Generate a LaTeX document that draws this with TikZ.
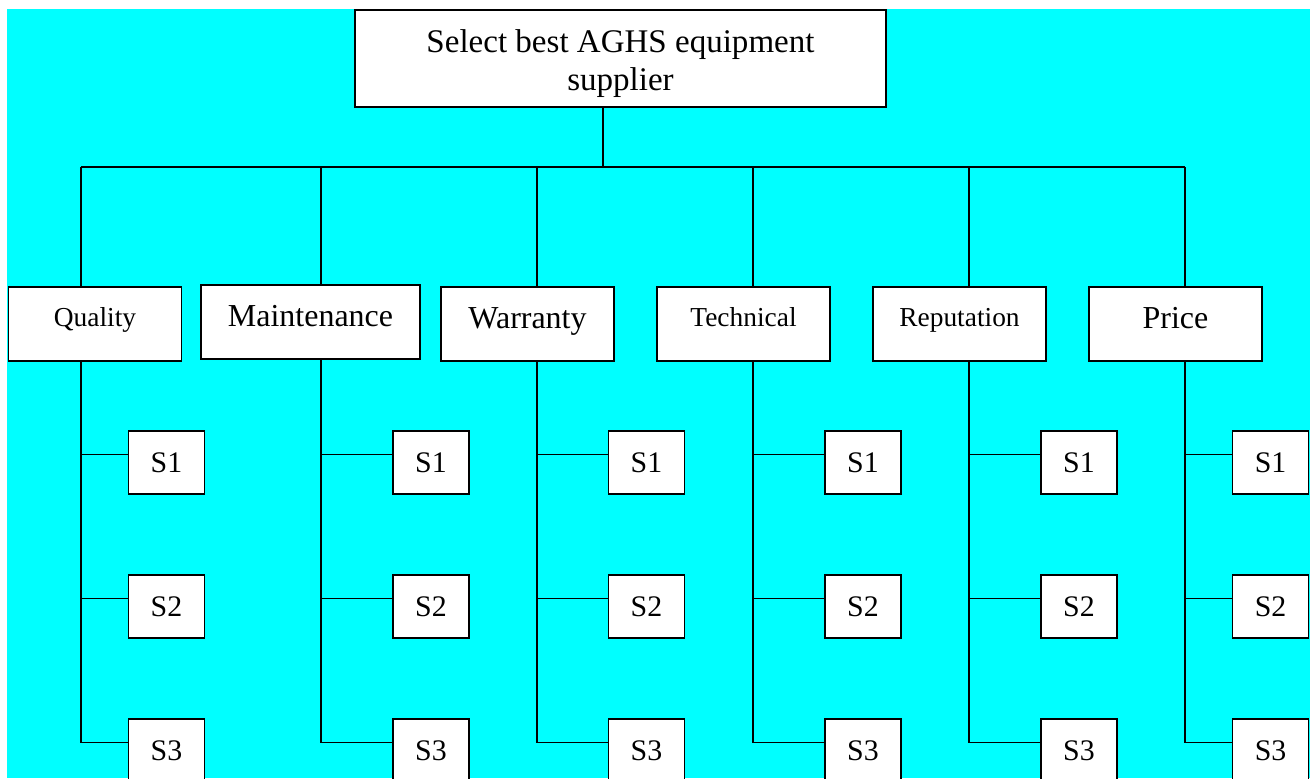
\documentclass[tikz,border=0pt]{standalone}
\usepackage{fontspec}
\setmainfont{Liberation Serif}

\newdimen\pu
\pu=0.02cm
\definecolor{bgcyan}{RGB}{0,255,255}

\tikzset{
  box/.style={draw=black,line width=1.1pt,fill=white,inner sep=0pt},
  goal/.style={box,minimum width=531\pu,text height=80\pu,text depth=17\pu,align=center,font=\fontsize{18.8}{21.6}\selectfont},
  critsmall/.style={box,minimum width=173\pu,text height=39\pu,text depth=35\pu,font=\fontsize{15.6}{18}\selectfont},
  critbig/.style={box,minimum width=173\pu,text height=41\pu,text depth=33\pu,font=\fontsize{18.2}{21}\selectfont},
  alt/.style={box,minimum width=76\pu,minimum height=63\pu,font=\fontsize{17}{20}\selectfont},
  link/.style={draw=black,line width=0.9pt}
}

\begin{document}
\begin{tikzpicture}[x=0.02cm,y=-0.02cm]

\useasboundingbox (0,0) rectangle (1310,778);
\clip (0,0) rectangle (1310,778);
\fill[white] (0,0) rectangle (1310,778);
\fill[bgcyan] (7,9) rectangle (1310,778);

%goal
\node[goal] (goal) at (620.5,58.5) {Select best AGHS equipment\\supplier};

%bus
\coordinate (j0) at (603,167);
\coordinate (j1) at (81,167);
\coordinate (j2) at (321,167);
\coordinate (j3) at (537,167);
\coordinate (j4) at (753,167);
\coordinate (j5) at (969,167);
\coordinate (j6) at (1185,167);
\path[link] (goal.south -| j0) -- (j0);
\path[link] (j1) -- (j6);

%criteria
\node[critsmall] (qual) at (95,324) {Quality};
\node[critbig,minimum width=219\pu] (main) at (310.5,322) {Maintenance};
\node[critbig] (warr) at (527.5,324) {Warranty};
\node[critsmall] (tech) at (743.5,324) {Technical};
\node[critsmall] (repu) at (959.5,324) {Reputation};
\node[critbig] (price) at (1175.5,324) {Price};

%suppliers
\node[alt] (q1) at (166.5,462.5) {S1};
\node[alt] (q2) at (166.5,606.5) {S2};
\node[alt] (q3) at (166.5,750.5) {S3};
\node[alt] (m1) at (431,462.5) {S1};
\node[alt] (m2) at (431,606.5) {S2};
\node[alt] (m3) at (431,750.5) {S3};
\node[alt] (w1) at (646.5,462.5) {S1};
\node[alt] (w2) at (646.5,606.5) {S2};
\node[alt] (w3) at (646.5,750.5) {S3};
\node[alt] (t1) at (863,462.5) {S1};
\node[alt] (t2) at (863,606.5) {S2};
\node[alt] (t3) at (863,750.5) {S3};
\node[alt] (r1) at (1079,462.5) {S1};
\node[alt] (r2) at (1079,606.5) {S2};
\node[alt] (r3) at (1079,750.5) {S3};
\node[alt] (p1) at (1270.5,462.5) {S1};
\node[alt] (p2) at (1270.5,606.5) {S2};
\node[alt] (p3) at (1270.5,750.5) {S3};

%quality
\draw[link] (j1) -- (j1 |- qual.north);
\draw[link] (j1 |- qual.south) |- ([yshift=8\pu]q3.west);
\draw[link] ([yshift=8\pu]q1.west) -- ([yshift=8\pu]q1.west -| j1);
\draw[link] ([yshift=8\pu]q2.west) -- ([yshift=8\pu]q2.west -| j1);

%maintenance
\draw[link] (j2) -- (j2 |- main.north);
\draw[link] (j2 |- main.south) |- ([yshift=8\pu]m3.west);
\draw[link] ([yshift=8\pu]m1.west) -- ([yshift=8\pu]m1.west -| j2);
\draw[link] ([yshift=8\pu]m2.west) -- ([yshift=8\pu]m2.west -| j2);

%warranty
\draw[link] (j3) -- (j3 |- warr.north);
\draw[link] (j3 |- warr.south) |- ([yshift=8\pu]w3.west);
\draw[link] ([yshift=8\pu]w1.west) -- ([yshift=8\pu]w1.west -| j3);
\draw[link] ([yshift=8\pu]w2.west) -- ([yshift=8\pu]w2.west -| j3);

%technical
\draw[link] (j4) -- (j4 |- tech.north);
\draw[link] (j4 |- tech.south) |- ([yshift=8\pu]t3.west);
\draw[link] ([yshift=8\pu]t1.west) -- ([yshift=8\pu]t1.west -| j4);
\draw[link] ([yshift=8\pu]t2.west) -- ([yshift=8\pu]t2.west -| j4);

%reputation
\draw[link] (j5) -- (j5 |- repu.north);
\draw[link] (j5 |- repu.south) |- ([yshift=8\pu]r3.west);
\draw[link] ([yshift=8\pu]r1.west) -- ([yshift=8\pu]r1.west -| j5);
\draw[link] ([yshift=8\pu]r2.west) -- ([yshift=8\pu]r2.west -| j5);

%price
\draw[link] (j6) -- (j6 |- price.north);
\draw[link] (j6 |- price.south) |- ([yshift=8\pu]p3.west);
\draw[link] ([yshift=8\pu]p1.west) -- ([yshift=8\pu]p1.west -| j6);
\draw[link] ([yshift=8\pu]p2.west) -- ([yshift=8\pu]p2.west -| j6);

\end{tikzpicture}
\end{document}
